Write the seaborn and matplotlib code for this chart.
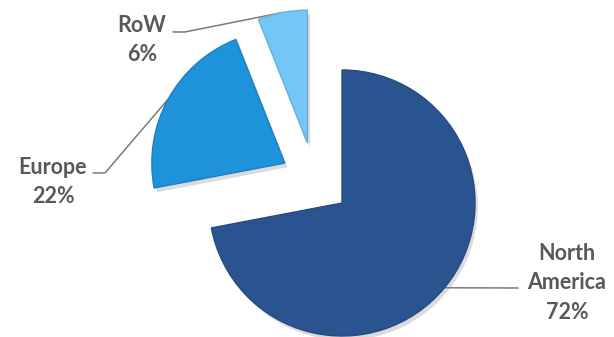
import numpy as np
import matplotlib
matplotlib.use('Agg')
import matplotlib.pyplot as plt
import matplotlib.patheffects as pe
import seaborn as sns

# data
regions = ['North America', 'Europe', 'RoW']
shares = [72, 22, 6]
labels = ['North\nAmerica\n72%', 'Europe\n22%', 'RoW\n6%']
colors = ['#2a5490', '#1f92dc', '#74c7f4']

sns.set_theme(style='white')
plt.rcParams['font.family'] = ['Lato', 'DejaVu Sans']

fig = plt.figure(figsize=(6.14, 3.37), dpi=100)
ax = fig.add_axes([0, 0, 1, 1])

wedges, _ = ax.pie(shares, colors=colors, startangle=90, counterclock=False,
                   radius=1, wedgeprops=dict(linewidth=0))

# exploded offsets of the small slices (data units, radius = 1)
offsets = [(0, 0), (-0.43, 0.30), (-0.26, 0.45)]
for w, (dx, dy) in zip(wedges, offsets):
    w.set_center((dx, dy))
    w.set_path_effects([pe.SimplePatchShadow(offset=(2, -3), shadow_rgbFace='#888888', alpha=0.3),
                        pe.Normal()])
    w.set_edgecolor(matplotlib.colors.to_hex(np.array(matplotlib.colors.to_rgb(w.get_facecolor())) * 0.88))
    w.set_linewidth(1.0)

# label layout: text centre, elbow points of the leader line
text_pos = [(1.692, -0.60), (-2.173, 0.158), (-1.504, 1.226)]
elbows = [[(1.323, -0.639)],
          [(-1.782, 0.226), (-1.872, 0.226)],
          [(-1.180, 1.286), (-1.271, 1.286)]]

for w, lab, tp, el in zip(wedges, labels, text_pos, elbows):
    mid = np.deg2rad((w.theta1 + w.theta2) / 2)
    cx, cy = w.center
    anchor = (cx + np.cos(mid), cy + np.sin(mid))
    pts = [anchor] + el
    ax.plot([p[0] for p in pts], [p[1] for p in pts], color='#7a7a7a', lw=1.1, zorder=0)
    ax.text(tp[0], tp[1], lab, ha='center', va='center', fontsize=15.5,
            fontweight='bold', color='#595959', linespacing=1.5)

ax.set_xlim(-342 / 133, (614 - 342) / 133)
ax.set_ylim((203 - 337) / 133, 203 / 133)
ax.set_aspect('auto')
ax.axis('off')

fig.savefig('out.png', dpi=100)
